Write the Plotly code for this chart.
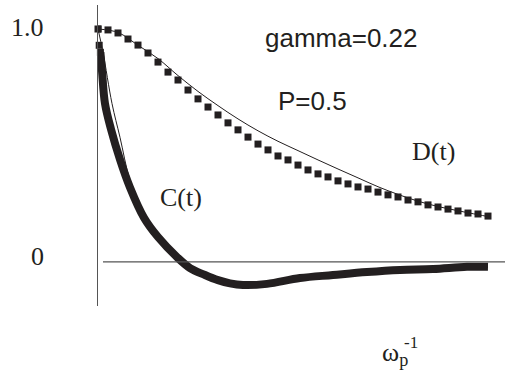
import plotly.graph_objects as go

# ---- data ----
D_t = [i * 0.25 for i in range(40)]
D_v = [1.000, 0.996, 0.983, 0.957, 0.931, 0.897, 0.858, 0.815, 0.781, 0.738,
       0.700, 0.665, 0.631, 0.597, 0.567, 0.536, 0.506, 0.481, 0.455, 0.438,
       0.416, 0.395, 0.378, 0.365, 0.348, 0.335, 0.322, 0.313, 0.300, 0.288,
       0.279, 0.266, 0.258, 0.245, 0.236, 0.227, 0.219, 0.210, 0.206, 0.197]

D_fit_t = [0, 0.5, 1.0, 1.5, 2.0, 2.5, 3.0, 3.5, 4.0, 4.5, 5.0, 5.5, 6.0, 6.5,
           7.0, 7.5, 8.0, 8.5, 9.0, 9.5, 9.75]
D_fit_v = [1.0, 0.985, 0.93, 0.873, 0.80, 0.732, 0.671, 0.614, 0.563, 0.518,
           0.478, 0.438, 0.399, 0.361, 0.323, 0.290, 0.261, 0.238, 0.220, 0.203, 0.195]

C_t = [0, 0.03, 0.06, 0.1, 0.175, 0.325, 0.55, 0.8, 1.15, 1.5, 1.975, 2.3,
       2.675, 3.0, 3.3, 3.625, 4.225, 5.05, 5.875, 6.725, 7.55, 8.375, 9.225, 9.75]
C_v = [1.0, 0.93, 0.90, 0.82, 0.68, 0.57, 0.44, 0.32, 0.19, 0.107, 0.021, -0.026,
       -0.056, -0.078, -0.092, -0.099, -0.094, -0.069, -0.056, -0.043, -0.034,
       -0.030, -0.021, -0.021]

C_fit_t = [0, 0.125, 0.35, 0.55, 0.8, 1.15, 1.5, 1.975, 2.675, 3.625, 5.05,
           6.725, 8.375, 9.75]
C_fit_v = [1.0, 0.90, 0.68, 0.535, 0.35, 0.20, 0.11, 0.023, -0.056, -0.099,
           -0.069, -0.043, -0.030, -0.021]

Y_TICK_VALS = [1.0, 0.0]
Y_TICK_TEXT = ["1.0", "0"]

INK = "#231f20"
SERIF = "Liberation Serif"
SANS = "Liberation Sans"

fig = go.Figure()

fig.add_trace(go.Scatter(x=D_fit_t, y=D_fit_v, mode="lines",
                         line=dict(color=INK, width=1, shape="spline"),
                         hoverinfo="skip", showlegend=False))
fig.add_trace(go.Scatter(x=D_t, y=D_v, mode="markers",
                         marker=dict(symbol="square", size=7, color=INK),
                         showlegend=False))
fig.add_trace(go.Scatter(x=C_fit_t, y=C_fit_v, mode="lines",
                         line=dict(color=INK, width=1, shape="spline"),
                         hoverinfo="skip", showlegend=False))
fig.add_trace(go.Scatter(x=C_t[2:], y=C_v[2:], mode="lines",
                         line=dict(color=INK, width=8, shape="spline"),
                         showlegend=False))
fig.add_trace(go.Scatter(x=C_t[:3], y=C_v[:3], mode="markers",
                         marker=dict(symbol="square", size=7, color=INK),
                         cliponaxis=False, showlegend=False))

# zero line
fig.add_shape(type="line", x0=0.125, x1=10.175, y0=0, y1=0, xref="x", yref="y",
              line=dict(color="#555555", width=1.2))

annotations = []
for v, txt, ys in zip(Y_TICK_VALS, Y_TICK_TEXT, [2, 5]):
    annotations.append(dict(x=0, xref="paper", y=v, yref="y", text=txt,
                            xanchor="right", yanchor="middle", xshift=-52, yshift=ys,
                            showarrow=False, font=dict(family=SERIF, size=26, color=INK)))

annotations += [
    dict(x=6.075, y=0.961, text="gamma=0.22", showarrow=False,
         font=dict(family=SANS, size=26, color=INK)),
    dict(x=5.35, y=0.689, text="P=0.5", showarrow=False,
         font=dict(family=SANS, size=26, color=INK)),
    dict(x=8.375, y=0.476, text="D(t)", showarrow=False,
         font=dict(family=SERIF, size=26, color=INK)),
    dict(x=2.075, y=0.275, text="C(t)", showarrow=False,
         font=dict(family=SERIF, size=26, color=INK)),
    dict(x=7.05, xref="x", y=-0.218, yref="paper", text="ω<sub>p</sub>",
         showarrow=False, xanchor="left",
         font=dict(family=SERIF, size=26, color=INK)),
    dict(x=7.82, xref="x", y=-0.161, yref="paper", text="-1", showarrow=False,
         font=dict(family=SERIF, size=17, color=INK)),
]

fig.update_layout(
    width=509, height=376,
    margin=dict(l=98, r=4, t=5, b=70),
    paper_bgcolor="white", plot_bgcolor="white",
    showlegend=False,
    xaxis=dict(range=[0, 10.175], visible=False, fixedrange=True),
    yaxis=dict(range=[-0.189, 1.103], showgrid=False, zeroline=False,
               showticklabels=False, ticks="", showline=True,
               linecolor="#555555", linewidth=1.2, fixedrange=True),
    annotations=annotations,
)

fig.write_html("out.html", config={"displayModeBar": False},
               post_script="document.body.style.margin='0';document.body.style.overflow='hidden';")
